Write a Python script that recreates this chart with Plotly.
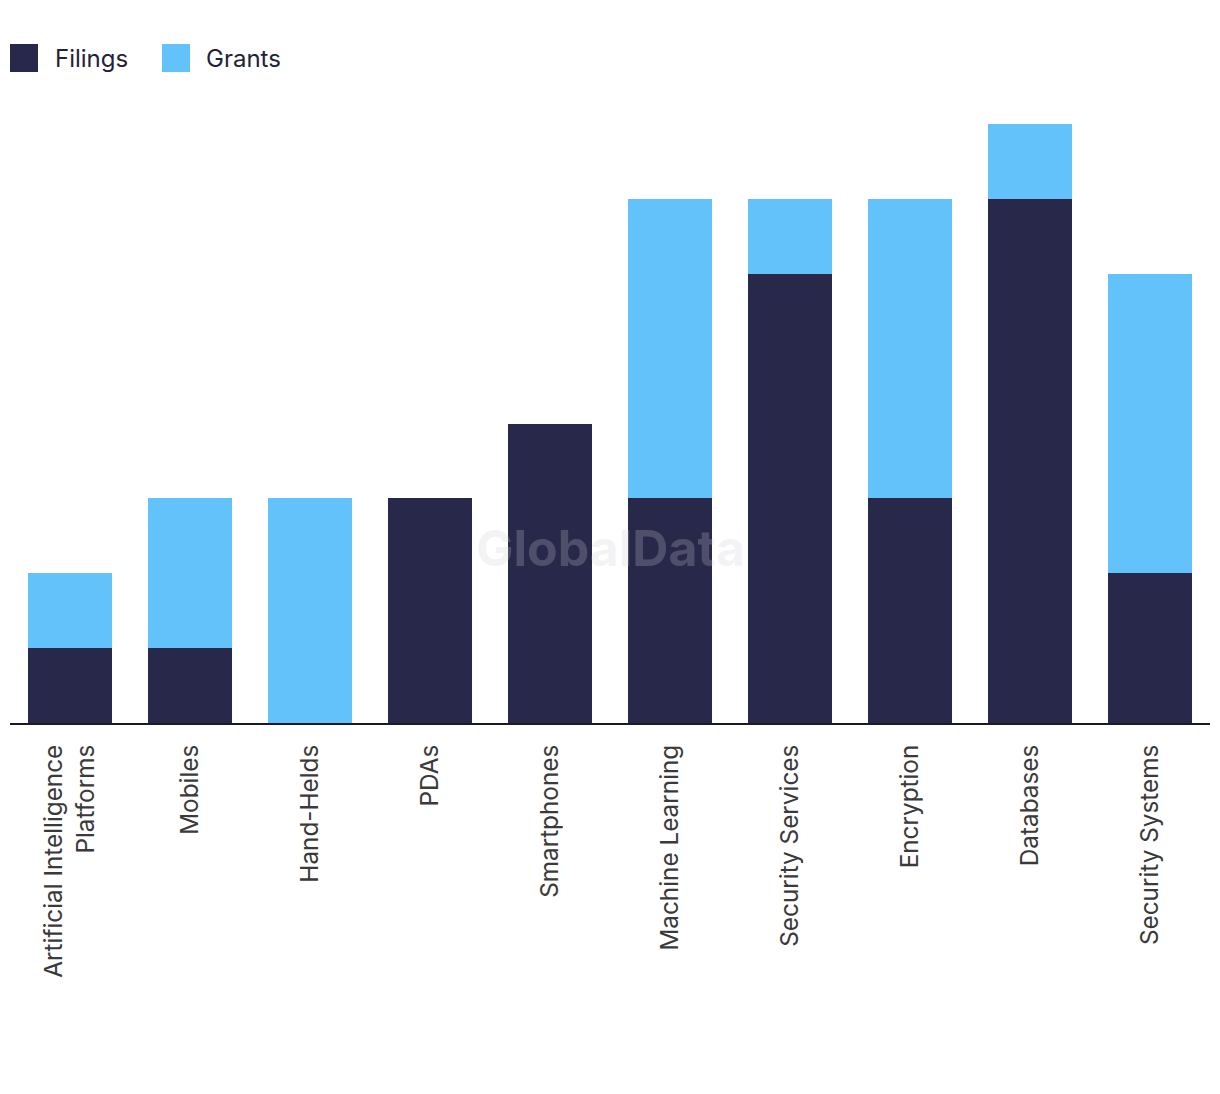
import plotly.graph_objects as go

categories = ["Artificial Intelligence<br>Platforms", "Mobiles", "Hand-Helds", "PDAs",
              "Smartphones", "Machine Learning", "Security Services", "Encryption",
              "Databases", "Security Systems"]
series_names = ["Filings", "Grants"]
filings = [1, 1, 0, 3, 4, 3, 6, 3, 7, 2]
grants = [1, 2, 3, 0, 0, 4, 1, 4, 1, 4]

NAVY = "#28284b"
BLUE = "#62c2f9"
colors = [NAVY, BLUE]

FONT = "Inter, Liberation Sans, Arial, sans-serif"

fig = go.Figure()
for name, vals, col in zip(series_names, [filings, grants], colors):
    fig.add_trace(go.Bar(x=categories, y=vals, name=name, marker_color=col,
                         marker_line_width=0, showlegend=False))

# figure geometry (page has an 8px body margin)
W, H = 1220, 1094
ML, MR, MT, MB = 2, 18, 116, 379
pw, ph = W - ML - MR, H - MT - MB

def px_to_paper(xp, yp):
    return (xp - ML) / pw, (H - MB - yp) / ph

shapes = []
annotations = []
# custom legend: squares 28px at top-left
legend_items = [(2, 45), (154, 196)]  # (square left px, text left px) in figure coords
for (sq_x, tx_x), name, col in zip(legend_items, series_names, colors):
    x0, y0 = px_to_paper(sq_x, 36)
    x1, y1 = px_to_paper(sq_x + 28, 64)
    shapes.append(dict(type="rect", xref="paper", yref="paper", x0=x0, x1=x1,
                       y0=y1, y1=y0, fillcolor=col, line_width=0))
    tx, ty = px_to_paper(tx_x, 50)
    annotations.append(dict(text=name, x=tx, y=ty, xref="paper", yref="paper",
                            xanchor="left", yanchor="middle", showarrow=False,
                            font=dict(size=24, color="#1f2238", family=FONT)))

wx, wy = px_to_paper(602, 540)
annotations.append(dict(text="<b>GlobalData</b>", x=wx, y=wy, xref="paper", yref="paper",
                        xanchor="center", yanchor="middle", showarrow=False,
                        font=dict(size=50, color="rgba(205,205,215,0.24)", family=FONT)))

fig.update_layout(
    width=W, height=H,
    barmode="stack", bargap=0.3,
    plot_bgcolor="white", paper_bgcolor="white",
    margin=dict(l=ML, r=MR, t=MT, b=MB),
    font=dict(family=FONT, size=24, color="#3a3a3a"),
    showlegend=False,
    xaxis=dict(tickangle=-90, showline=True, linecolor="#1a1a2e", linewidth=2,
               ticks="", showgrid=False, tickfont=dict(size=24.3, color="#3a3a3a", family=FONT),
               ticklabelstandoff=10, fixedrange=True),
    yaxis=dict(range=[0, 8], visible=False, showgrid=False, fixedrange=True),
    shapes=shapes,
    annotations=annotations,
)

fig.write_html("out.html")
